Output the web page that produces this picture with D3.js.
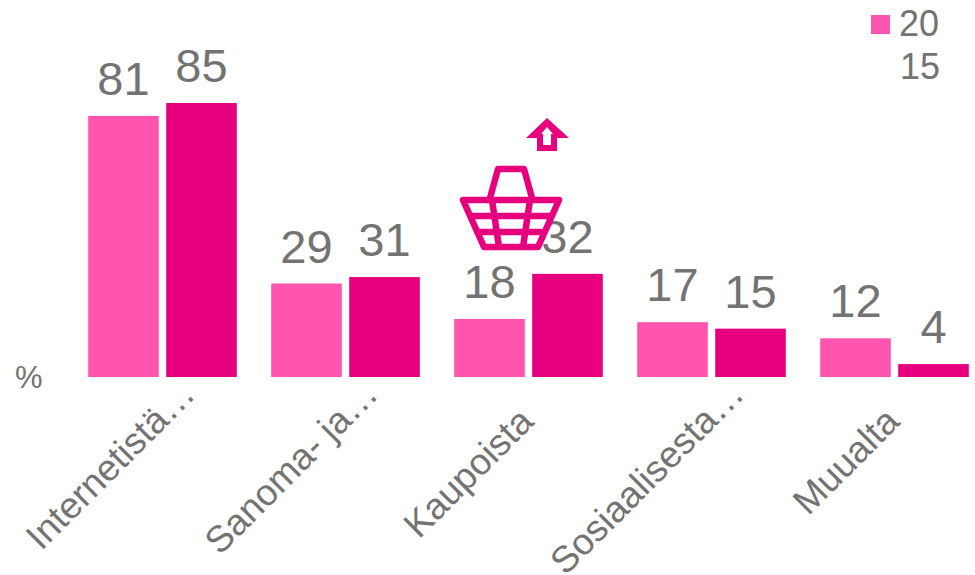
<!DOCTYPE html>
<html>
<head>
<meta charset="utf-8">
<script src="https://cdn.jsdelivr.net/npm/d3@7"></script>
<style>
html, body { margin: 0; padding: 0; background: #fff; }
svg { display: block; }
text { font-family: "Liberation Sans", Arial, sans-serif; fill: #737373; }
</style>
</head>
<body>
<div id="d3"></div>
<script>
var categories = ["Internetistä…", "Sanoma- ja…", "Kaupoista", "Sosiaalisesta…", "Muualta"];
var series2015 = [81, 29, 18, 17, 12];
var series2016 = [85, 31, 32, 15, 4];
var seriesColors = ["#ff55ae", "#e6007e"];

var w = 975;
var h = 575;
var baseY = 377;

var svg = d3.select("#d3")
    .append("svg")
    .attr("width", w)
    .attr("height", h);

var x = d3.scaleBand()
    .domain(categories)
    .range([71.4, 986.4]);

var inner = d3.scaleBand()
    .domain([0, 1])
    .range([16.8, 165.4])
    .paddingInner(0.095);

var y = d3.scaleLinear()
    .domain([0, 85])
    .range([baseY, 103]);

// bars and their value labels
[series2015, series2016].forEach(function (values, s) {
    var g = svg.append("g");

    g.selectAll("rect")
        .data(values)
        .enter()
        .append("rect")
        .attr("x", function (d, i) { return x(categories[i]) + inner(s); })
        .attr("y", function (d) { return y(d); })
        .attr("width", inner.bandwidth())
        .attr("height", function (d) { return baseY - y(d); })
        .attr("fill", seriesColors[s]);

    g.selectAll("text")
        .data(values)
        .enter()
        .append("text")
        .text(function (d) { return d; })
        .attr("x", function (d, i) { return x(categories[i]) + inner(s) + inner.bandwidth() / 2; })
        .attr("y", function (d) { return y(d) - 21; })
        .attr("text-anchor", "middle")
        .attr("font-size", "47px");
});

// category axis, the shortened labels sit higher and further right
var axis = svg.append("g")
    .attr("transform", "translate(0," + baseY + ")")
    .call(d3.axisBottom(x).tickSize(0).tickPadding(0));
axis.select(".domain").remove();
axis.attr("font-family", null).attr("font-size", null);
axis.selectAll("text")
    .attr("font-size", "37px")
    .attr("text-anchor", "end")
    .attr("dy", null)
    .attr("y", 0)
    .attr("transform", function (d) {
        return d.slice(-1) === "…" ? "translate(34,19) rotate(-45)" : "translate(6.5,46.5) rotate(-45)";
    });

// unit
svg.append("text")
    .text("%")
    .attr("x", 15)
    .attr("y", 388)
    .attr("font-size", "31px");

// legend, wrapped the same way as the original
svg.append("rect")
    .attr("x", 871)
    .attr("y", 15)
    .attr("width", 19)
    .attr("height", 19)
    .attr("fill", seriesColors[0]);
svg.append("text").text("20").attr("x", 899).attr("y", 36).attr("font-size", "36px");
svg.append("text").text("15").attr("x", 900).attr("y", 79).attr("font-size", "36px");

// basket icon
var basket = svg.append("g")
    .attr("fill", "none")
    .attr("stroke", seriesColors[1])
    .attr("stroke-width", 6.5)
    .attr("stroke-linejoin", "round");
basket.append("path").attr("d", "M463,200H559L538,247H484Z");
basket.append("path").attr("d", "M490,198L498,169H524L532,198");
basket.append("path").attr("d", "M470,216H552M476,232H546M492,200L499,247M530,200L523,247");

// up arrow
svg.append("path")
    .attr("d", "M547,118L569,138H557V151H537V138H526Z")
    .attr("fill", seriesColors[1]);
svg.append("path")
    .attr("d", "M547,127L553,134H551V145H543V134H541Z")
    .attr("fill", "#fff");
</script>
</body>
</html>
